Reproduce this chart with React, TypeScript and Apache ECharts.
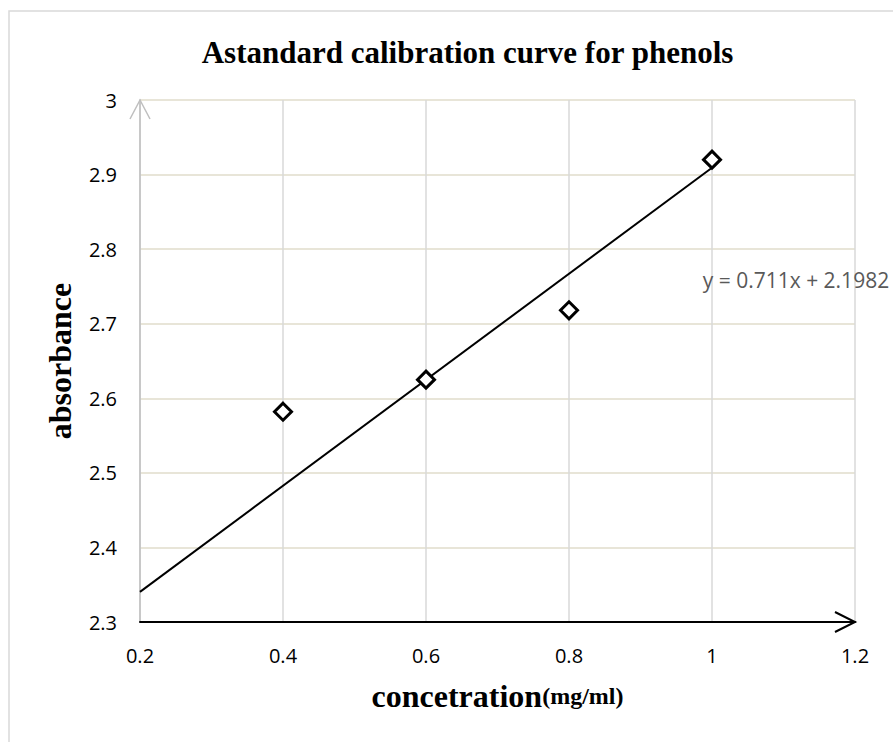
import React, { useEffect, useRef } from "react";
import * as echarts from "echarts";

const TITLE = "Astandard calibration curve for phenols";
const concentration = [0.4, 0.6, 0.8, 1.0];
const absorbance = [2.582, 2.625, 2.718, 2.92];
const slope = 0.711;
const intercept = 2.1982;
const trendRange = [0.2, 1.0];
const equationAnchor = [0.987, 2.759];
const equationText = "y = 0.711x + 2.1982";
const xMin = 0.2, xMax = 1.2, xStep = 0.2;
const yMin = 2.3, yMax = 3, yStep = 0.1;

const SANS = "'Open Sans', 'Liberation Sans', sans-serif";
const SERIF = "'Liberation Serif', 'Times New Roman', serif";

export default function App() {
  const ref = useRef<HTMLDivElement>(null);
  useEffect(() => {
    if (!ref.current) return;
    const chart = echarts.init(ref.current, null, { renderer: "svg" });
    const fmt = (v: number) => String(+v.toFixed(1));
    chart.setOption({
      animation: false,
      backgroundColor: "#fff",
      grid: { left: 140, top: 100, width: 715, height: 522, containLabel: false },
      xAxis: {
        type: "value",
        min: xMin,
        max: xMax,
        interval: xStep,
        name: "{a|concetration}{b|(mg/ml)}",
        nameLocation: "middle",
        nameGap: 58,
        nameTextStyle: {
          rich: {
            a: { fontFamily: SERIF, fontWeight: "bold", fontSize: 32, color: "#000" },
            b: { fontFamily: SERIF, fontWeight: "bold", fontSize: 24, color: "#000" },
          },
        },
        axisLine: { show: true, onZero: false, lineStyle: { color: "#000", width: 2 } },
        axisTick: { show: false },
        axisLabel: { formatter: fmt, fontFamily: SANS, fontSize: 20, color: "#000", margin: 23 },
        splitLine: { show: true, lineStyle: { color: "#d9d9d9", width: 1.5 } },
      },
      yAxis: {
        type: "value",
        min: yMin,
        max: yMax,
        interval: yStep,
        name: "absorbance",
        nameLocation: "middle",
        nameGap: 64,
        nameTextStyle: { fontFamily: SERIF, fontWeight: "bold", fontSize: 32, color: "#000" },
        axisLine: { show: true, onZero: false, lineStyle: { color: "#bfbfbf", width: 1.5 } },
        axisTick: { show: false },
        axisLabel: { formatter: fmt, fontFamily: SANS, fontSize: 20, color: "#000", margin: 23 },
        splitLine: { show: true, lineStyle: { color: "#e0dccb", width: 1.5 } },
      },
      series: [
        {
          type: "line",
          data: trendRange.map((x) => [x, slope * x + intercept]),
          showSymbol: false,
          lineStyle: { color: "#000", width: 2 },
          z: 2,
          silent: true,
        },
        {
          type: "scatter",
          data: concentration.map((x, i) => [x, absorbance[i]]),
          symbol: "diamond",
          symbolSize: 17,
          itemStyle: { color: "#fff", borderColor: "#000", borderWidth: 3, opacity: 1 },
          z: 3,
        },
      ],
    });

    const yTop = chart.convertToPixel({ gridIndex: 0 }, [xMin, yMax]) as number[];
    const xRight = chart.convertToPixel({ gridIndex: 0 }, [xMax, yMin]) as number[];
    const eq = chart.convertToPixel({ gridIndex: 0 }, equationAnchor) as number[];
    const midX = (yTop[0] + xRight[0]) / 2;

    chart.setOption({
      graphic: [
        {
          type: "rect",
          shape: { x: 9, y: 11, width: 1000, height: 1000 },
          style: { fill: "none", stroke: "#d9d9d9", lineWidth: 1.5 },
          silent: true,
        },
        {
          type: "text",
          x: midX - 30,
          y: 52,
          style: {
            text: TITLE,
            font: `bold 31px ${SERIF}`,
            fill: "#000",
            align: "center",
            verticalAlign: "middle",
          },
        },
        {
          type: "polyline",
          shape: { points: [[yTop[0] - 10, yTop[1] + 19], [yTop[0], yTop[1]], [yTop[0] + 10, yTop[1] + 19]] },
          style: { fill: "none", stroke: "#bfbfbf", lineWidth: 1.5 },
          z: 10,
        },
        {
          type: "polyline",
          shape: { points: [[xRight[0] - 20, xRight[1] - 10], [xRight[0], xRight[1]], [xRight[0] - 20, xRight[1] + 10]] },
          style: { fill: "none", stroke: "#000", lineWidth: 2 },
          z: 10,
        },
        {
          type: "text",
          x: eq[0],
          y: eq[1],
          style: {
            text: equationText,
            font: `21px ${SANS}`,
            fill: "#595959",
            align: "left",
            verticalAlign: "middle",
          },
          z: 10,
        },
      ],
    });

    return () => chart.dispose();
  }, []);
  return (
    <div
      ref={ref}
      style={{ position: "absolute", left: 0, top: 0, width: 893, height: 742, background: "#fff" }}
    />
  );
}
